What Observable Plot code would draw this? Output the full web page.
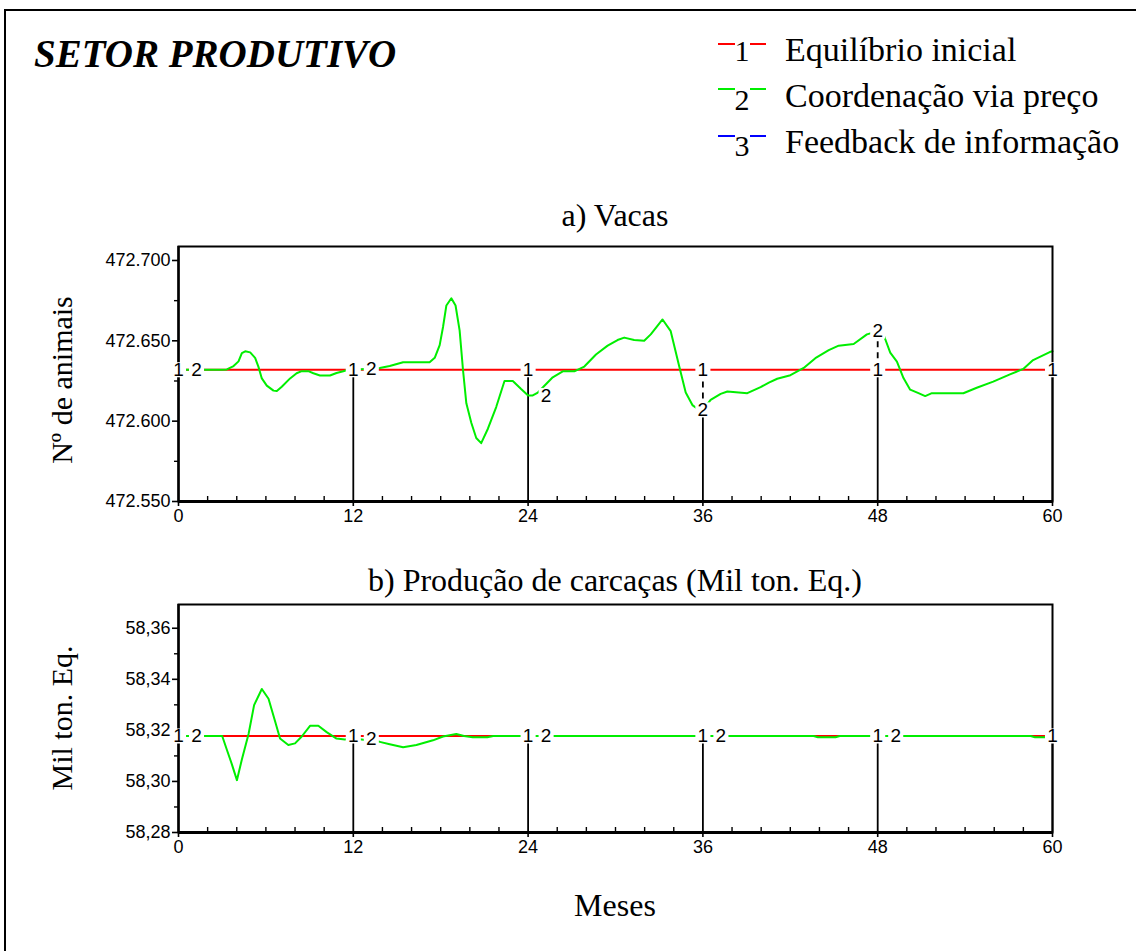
<!DOCTYPE html>
<html>
<head>
<meta charset="utf-8">
<script src="https://cdn.jsdelivr.net/npm/d3@7"></script>
<script src="https://cdn.jsdelivr.net/npm/@observablehq/plot@0.6"></script>
<style>
  html, body { margin: 0; padding: 0; background: #fff; }
  body { width: 1136px; height: 951px; overflow: hidden; position: relative; }
  #frame { position: absolute; left: 4px; top: 9px; width: 1300px; height: 1100px;
           border-left: 2px solid #000; border-top: 2px solid #000; box-sizing: border-box; }
  #overlay { position: absolute; left: 0; top: 0; }
  #top { position: absolute; left: 0; top: 236px; }
  #bot { position: absolute; left: 0; top: 594px; }
</style>
</head>
<body>
<div id="frame"></div>
<div id="top"></div>
<div id="bot"></div>
<svg id="overlay" width="1136" height="951"></svg>
<script>
// ---------------- data ----------------
const title = "SETOR PRODUTIVO";
const seriesNames = ["Equilíbrio inicial", "Coordenação via preço", "Feedback de informação"];
const seriesNumbers = ["1", "2", "3"];
const seriesColors = ["#ff0000", "#00ee00", "#0000ff"];

const xTicks = [0, 12, 24, 36, 48, 60];
const xMinorTicks = [2, 4, 6, 8, 10, 14, 16, 18, 20, 22, 26, 28, 30, 32, 34, 38, 40, 42, 44, 46, 50, 52, 54, 56, 58];
const labelMonths1 = [0, 12, 24, 36, 48, 60];
const labelMonths2 = [0, 12, 24, 36, 48];

// a) Vacas (Nº de animais)
const vacasTitle = "a) Vacas";
const vacasYLabel = "Nº de animais";
const vacasDomain = [472550, 472708.7];
const vacasTicks = [472550, 472600, 472650, 472700];
const vacasMinorTicks = [472575, 472625, 472675];
const vacasEquilMonths = [0, 60];
const vacasEquil = [472632, 472632];
const vacasCoordMonths = [0, 3.0, 3.32, 3.78, 4.12, 4.35, 4.58, 4.92, 5.26, 5.49, 5.72, 6.06, 6.52, 6.75, 7.09, 7.66, 8.11, 8.46, 8.91, 9.26, 9.71, 10.40, 10.85, 11.31, 11.65, 12,
  12.57, 13.82, 14.50, 15.42, 17.24, 17.59, 17.93, 18.16, 18.39, 18.73, 19.02, 19.30, 19.53, 19.76, 20.10, 20.44, 20.78, 21.24, 21.81, 22.38, 22.95, 23.52, 24,
  24.32, 24.67, 25.69, 26.38, 27.17, 27.86, 28.66, 29.46, 30.14, 30.60, 31.28, 31.97, 32.42, 33.23, 33.79, 34.36, 34.82, 35.28, 35.62, 36,
  36.53, 37.22, 37.68, 39.05, 39.96, 40.53, 41.10, 42.01, 42.92, 43.72, 44.64, 45.32, 46.35, 47.26, 48,
  48.45, 48.86, 49.32, 49.77, 50.23, 50.80, 51.26, 51.72, 53.88, 54.80, 55.93, 57.08, 57.99, 58.67, 59.81, 60];
const vacasCoord = [472632, 472632, 472632.2, 472634.3, 472637.2, 472642.4, 472643.5, 472642.8, 472639.4, 472633.8, 472626.6, 472622.1, 472619.0, 472618.7, 472621.4, 472626.6, 472629.8, 472631.1, 472631.1, 472629.8, 472628.4, 472628.4, 472630.0, 472631.1, 472632.0, 472632.3,
  472632.3, 472633.1, 472634.3, 472636.7, 472636.7, 472639.4, 472647.3, 472658.6, 472672.0, 472676.5, 472672.0, 472656.3, 472632.0, 472611.1, 472599.0, 472589.5, 472586.3, 472595.3, 472608.8, 472625.0, 472625.0, 472620.0, 472616.0,
  472616.0, 472617.8, 472627.3, 472631.0, 472631.0, 472634.0, 472641.5, 472647.0, 472650.5, 472652.0, 472650.5, 472650.0, 472654.0, 472663.3, 472656.0, 472634.7, 472617.8, 472610.0, 472607.7, 472607.0,
  472613.3, 472617.0, 472618.5, 472617.4, 472621.2, 472624.0, 472626.4, 472628.6, 472633.1, 472639.2, 472644.2, 472647.0, 472648.0, 472654.0, 472656.0,
  472652.7, 472642.6, 472637.0, 472626.8, 472619.6, 472617.4, 472615.6, 472617.4, 472617.4, 472620.8, 472624.6, 472629.1, 472632.5, 472638.0, 472643.0, 472643.5];

// b) Produção de carcaças (Mil ton. Eq.)
const carcTitle = "b) Produção de carcaças (Mil ton. Eq.)";
const carcYLabel = "Mil ton. Eq.";
const carcDomain = [58.28, 58.3693];
const carcTicks = [58.28, 58.30, 58.32, 58.34, 58.36];
const carcMinorTicks = [58.29, 58.31, 58.33, 58.35];
const carcEquilMonths = [0, 60];
const carcEquil = [58.3178, 58.3178];
const carcCoordMonths = [0, 3.0, 3.32, 3.66, 4.01, 4.35, 4.81, 5.19, 5.72, 6.18, 6.63, 6.97, 7.54, 8.00, 8.46, 9.03, 9.60, 10.17, 10.85, 11.42, 12,
  13.0, 13.82, 14.50, 15.42, 16.33, 17.47, 18.16, 19.07, 19.6, 20.2, 21.2, 21.6, 24, 36, 43.6, 43.9, 45.1, 45.4, 48, 58.5, 58.8, 59.5, 60];
const carcCoord = [58.3178, 58.3178, 58.3124, 58.3068, 58.3005, 58.3086, 58.3186, 58.3299, 58.3362, 58.3324, 58.3236, 58.3168, 58.3143, 58.3149, 58.3176, 58.3218, 58.3218, 58.3193, 58.3168, 58.3164, 58.3168,
  58.3161, 58.3155, 58.3146, 58.3134, 58.3143, 58.3161, 58.3176, 58.3186, 58.3178, 58.3173, 58.3173, 58.3178, 58.3178, 58.3178, 58.3178, 58.3173, 58.3173, 58.3178, 58.3178, 58.3178, 58.3173, 58.3173, 58.3177];

const xLabel = "Meses";

// ---------------- helpers ----------------
const locale = d3.formatLocale({decimal: ",", thousands: ".", grouping: [3], currency: ["", ""]});
const fmtVacas = locale.format(",.0f");
const fmtCarc = locale.format(".2f");
const SERIF = "'Liberation Serif', 'Times New Roman', serif";
const SANS = "'Liberation Sans', Arial, sans-serif";

function makePanel({domain, ticks, minorTicks, fmt, equilMonths, equil, coordMonths, coord, frameHeight}) {
  const W = 1136, mL = 178, mR = 84, mT = 10, mB = 30;
  const pxPerUnit = frameHeight / (domain[1] - domain[0]);
  const redData = equilMonths.map((m, i) => ({m, v: equil[i]}));
  const greenData = coordMonths.map((m, i) => ({m, v: coord[i]}));
  const eqAt = () => equil[0];
  const greenAt = m => coord[coordMonths.indexOf(m)];

  const labels = [];
  labelMonths1.forEach(m => labels.push({m, v: eqAt(m), t: seriesNumbers[0], dx: 0}));
  labelMonths2.forEach(m => {
    const v = greenAt(m);
    const stacked = Math.abs(v - eqAt(m)) * pxPerUnit > 30;
    labels.push({m, v, t: seriesNumbers[1], dx: stacked ? 0 : 18});
  });

  const solid = [], dashed = [];
  xTicks.filter(m => m > 0).forEach(m => {
    const v1 = eqAt(m);
    const v2 = labelMonths2.includes(m) ? greenAt(m) : undefined;
    const stacked = v2 !== undefined && Math.abs(v2 - v1) * pxPerUnit > 30;
    const low = stacked ? Math.min(v1, v2) : v1;
    solid.push({m, y1: domain[0], y2: low});
    if (stacked) dashed.push({m, y1: low, y2: Math.max(v1, v2)});
  });

  return Plot.plot({
    width: W, height: mT + frameHeight + mB,
    marginLeft: mL, marginRight: mR, marginTop: mT, marginBottom: mB,
    x: {domain: [0, 60]},
    y: {domain},
    style: {fontFamily: SANS, fontSize: "18px", background: "transparent", overflow: "visible", color: "#000"},
    marks: [
      Plot.ruleX(solid, {x: "m", y1: "y1", y2: "y2", stroke: "#000", strokeWidth: 1.8}),
      Plot.ruleX(dashed, {x: "m", y1: "y1", y2: "y2", stroke: "#000", strokeWidth: 1.8, strokeDasharray: "6,5"}),
      Plot.line(redData, {x: "m", y: "v", stroke: seriesColors[0], strokeWidth: 2}),
      Plot.line(greenData, {x: "m", y: "v", stroke: seriesColors[1], strokeWidth: 2}),
      Plot.frame({stroke: "#000", strokeWidth: 2}),
      Plot.ruleY([domain[0]], {stroke: "#000", strokeWidth: 3}),
      Plot.ruleX([0], {stroke: "#000", strokeWidth: 2.4}),
      Plot.axisX(xTicks, {tickSize: 5, tickPadding: 3, tickFormat: d => String(d), label: null, fontSize: 18, strokeWidth: 1.6}),
      Plot.axisX(xMinorTicks, {tickSize: -5, tickFormat: () => "", label: null, strokeWidth: 1.4}),
      Plot.axisY(ticks, {tickSize: 6, tickPadding: 2, tickFormat: fmt, label: null, fontSize: 18, strokeWidth: 1.6}),
      Plot.axisY(minorTicks, {tickSize: 4, tickFormat: () => "", label: null, strokeWidth: 1.4}),
      ...labels.map(l => Plot.dot([l], {x: "m", y: "v", dx: l.dx, symbol: "square", r: 8.5, fill: "#fff", stroke: "none"})),
      ...labels.map(l => Plot.text([l], {x: "m", y: "v", dx: l.dx, text: "t", fill: "#000", fontSize: 19, fontFamily: SANS}))
    ]
  });
}

document.getElementById("top").appendChild(makePanel({
  domain: vacasDomain, ticks: vacasTicks, minorTicks: vacasMinorTicks, fmt: fmtVacas,
  equilMonths: vacasEquilMonths, equil: vacasEquil, coordMonths: vacasCoordMonths, coord: vacasCoord,
  frameHeight: 255
}));
document.getElementById("bot").appendChild(makePanel({
  domain: carcDomain, ticks: carcTicks, minorTicks: carcMinorTicks, fmt: fmtCarc,
  equilMonths: carcEquilMonths, equil: carcEquil, coordMonths: carcCoordMonths, coord: carcCoord,
  frameHeight: 228
}));

// ---------------- titles, axis titles & legend ----------------
const ov = d3.select("#overlay");
ov.append("text").attr("x", 34).attr("y", 67).attr("font-family", SERIF).attr("font-size", 39)
  .attr("font-weight", "bold").attr("font-style", "italic").text(title);

const legendRows = [{base: 61, line: 44}, {base: 107, line: 89}, {base: 153, line: 136}];
seriesNames.forEach((name, i) => {
  const r = legendRows[i];
  const g = ov.append("g");
  g.append("line").attr("x1", 718).attr("x2", 735).attr("y1", r.line).attr("y2", r.line).attr("stroke", seriesColors[i]).attr("stroke-width", 2);
  g.append("line").attr("x1", 750).attr("x2", 766).attr("y1", r.line).attr("y2", r.line).attr("stroke", seriesColors[i]).attr("stroke-width", 2);
  g.append("text").attr("x", 742).attr("y", r.base + (i ? 3 : 0)).attr("text-anchor", "middle")
    .attr("font-family", SERIF).attr("font-size", 30).text(seriesNumbers[i]);
  g.append("text").attr("x", 785).attr("y", r.base).attr("font-family", SERIF).attr("font-size", 34).text(name);
});

ov.append("text").attr("x", 615).attr("y", 226).attr("text-anchor", "middle").attr("font-family", SERIF).attr("font-size", 32).text(vacasTitle);
ov.append("text").attr("x", 615).attr("y", 591).attr("text-anchor", "middle").attr("font-family", SERIF).attr("font-size", 32).text(carcTitle);
ov.append("text").attr("x", 615).attr("y", 916).attr("text-anchor", "middle").attr("font-family", SERIF).attr("font-size", 32).text(xLabel);

ov.append("text").attr("transform", "translate(72,380) rotate(-90)").attr("text-anchor", "middle")
  .attr("font-family", SERIF).attr("font-size", 30).text(vacasYLabel);
ov.append("text").attr("transform", "translate(72,718) rotate(-90)").attr("text-anchor", "middle")
  .attr("font-family", SERIF).attr("font-size", 30).text(carcYLabel);
</script>
</body>
</html>
